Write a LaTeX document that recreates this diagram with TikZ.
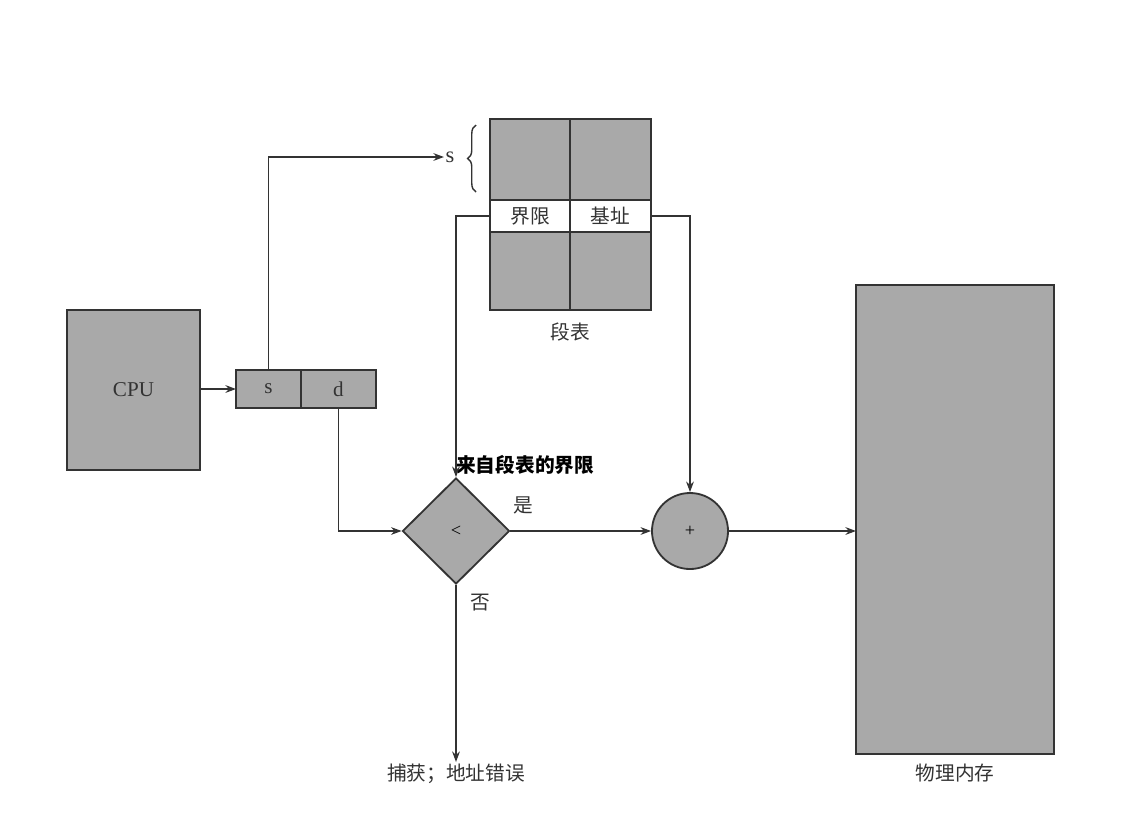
\documentclass[tikz,border=0pt]{standalone}
\usepackage{fontspec}
\setmainfont{Liberation Serif}
\newfontfamily\cjk{Noto Sans CJK SC}
\usetikzlibrary{
  shapes.geometric,
  arrows.meta,
  positioning,
  decorations.pathreplacing
}
\definecolor{BoxGray}{HTML}{A9A9A9}
\definecolor{InkGray}{HTML}{333333}
\tikzset{
  % Shaded block (CPU, memory, table cells)
  blk/.style={
    rectangle, draw=InkGray, fill=BoxGray,
    line width=1.3pt, inner sep=0pt, outer sep=0pt,
    font=\fontsize{15}{17}\selectfont, text=InkGray
  },
  % White row of the table
  wrow/.style={blk, fill=white, font=\cjk\fontsize{14}{16}\selectfont},
  % Comparator diamond
  cmpbox/.style={
    diamond, draw=InkGray, fill=BoxGray, line width=1.3pt,
    minimum width=2.675cm, minimum height=2.65cm, inner sep=0pt,
    font=\fontsize{13}{15}\selectfont
  },
  % Adder circle
  addbox/.style={
    circle, draw=InkGray, fill=BoxGray, line width=1.3pt,
    minimum size=1.9cm, inner sep=0pt, font=\fontsize{13}{15}\selectfont
  },
  % Arrow
  arr/.style={
    -{Stealth[length=7.5pt,width=5.5pt]},
    line width=0.9pt, color=InkGray
  },
  % Labels
  lbl/.style={font=\cjk\fontsize{14}{16}\selectfont, text=InkGray, inner sep=1pt}
}
\begin{document}
\begin{tikzpicture}[x=0.025cm, y=-0.025cm]
  \useasboundingbox[fill=white] (0,0) rectangle (1125,818);

  % CPU and logical address
  \node[blk, minimum width=3.325cm, minimum height=4cm] (cpu) at (133.5,390) {CPU};
  \node[blk, minimum width=1.625cm, minimum height=0.95cm] (sreg) at (268.5,389) {s};
  \node[blk, minimum width=1.875cm, minimum height=0.95cm, right=0pt of sreg] (dreg) {d};

  % Segment table
  \node[blk, minimum width=2cm, minimum height=2.025cm] (tl) at (530,159.5) {};
  \node[blk, minimum width=2.025cm, minimum height=2.025cm, right=0pt of tl] (tr) {};
  \node[wrow, minimum width=2cm, minimum height=0.8cm, below=0pt of tl] (lim) {界限};
  \node[wrow, minimum width=2.025cm, minimum height=0.8cm, below=0pt of tr] (base) {基址};
  \node[blk, minimum width=2cm, minimum height=1.95cm, below=0pt of lim] (bl) {};
  \node[blk, minimum width=2.025cm, minimum height=1.95cm, below=0pt of base] (br) {};
  \node[lbl, below=8pt of bl.south east] (tabname) {段表};
  \node[font=\fontsize{16}{18}\selectfont, text=InkGray, inner sep=1pt] (sidx) at (450,157) {s};
  \draw[decorate, decoration={brace, amplitude=6pt}, line width=1pt, InkGray]
    (476,192) -- (476,125);

  % Checks and memory
  \node[cmpbox] (cmp) at (456,531) {<};
  \node[addbox] (add) at (690,531) {+};
  \node[blk, minimum width=4.95cm, minimum height=11.725cm] (mem) at (955,519.5) {};
  \node[lbl, below=6pt of mem] (memname) {物理内存};
  \node[lbl, anchor=north] (trap) at (456,762) {捕获；地址错误};
  \node[font=\cjk\bfseries\fontsize{14}{16}\selectfont, anchor=west, inner sep=0pt]
    (limtxt) at (456,465) {来自段表的界限};
  \node[lbl] (yes) at (523,505) {是};
  \node[lbl] (no) at (480,603) {否};

  % Arrows
  \draw[arr] (cpu.east |- sreg.west) -- (sreg.west);
  \draw[arr] (sreg.north) |- (sidx.west);
  \draw[arr] (lim.west) -| (cmp.north);
  \draw[arr] (base.east) -| (add.north);
  \draw[arr] (dreg.south) |- (cmp.west);
  \draw[arr] (cmp.east) -- (add.west);
  \draw[arr] (add.east) -- (add.east -| mem.west);
  \draw[arr] (cmp.south) -- (trap.north);
\end{tikzpicture}
\end{document}
